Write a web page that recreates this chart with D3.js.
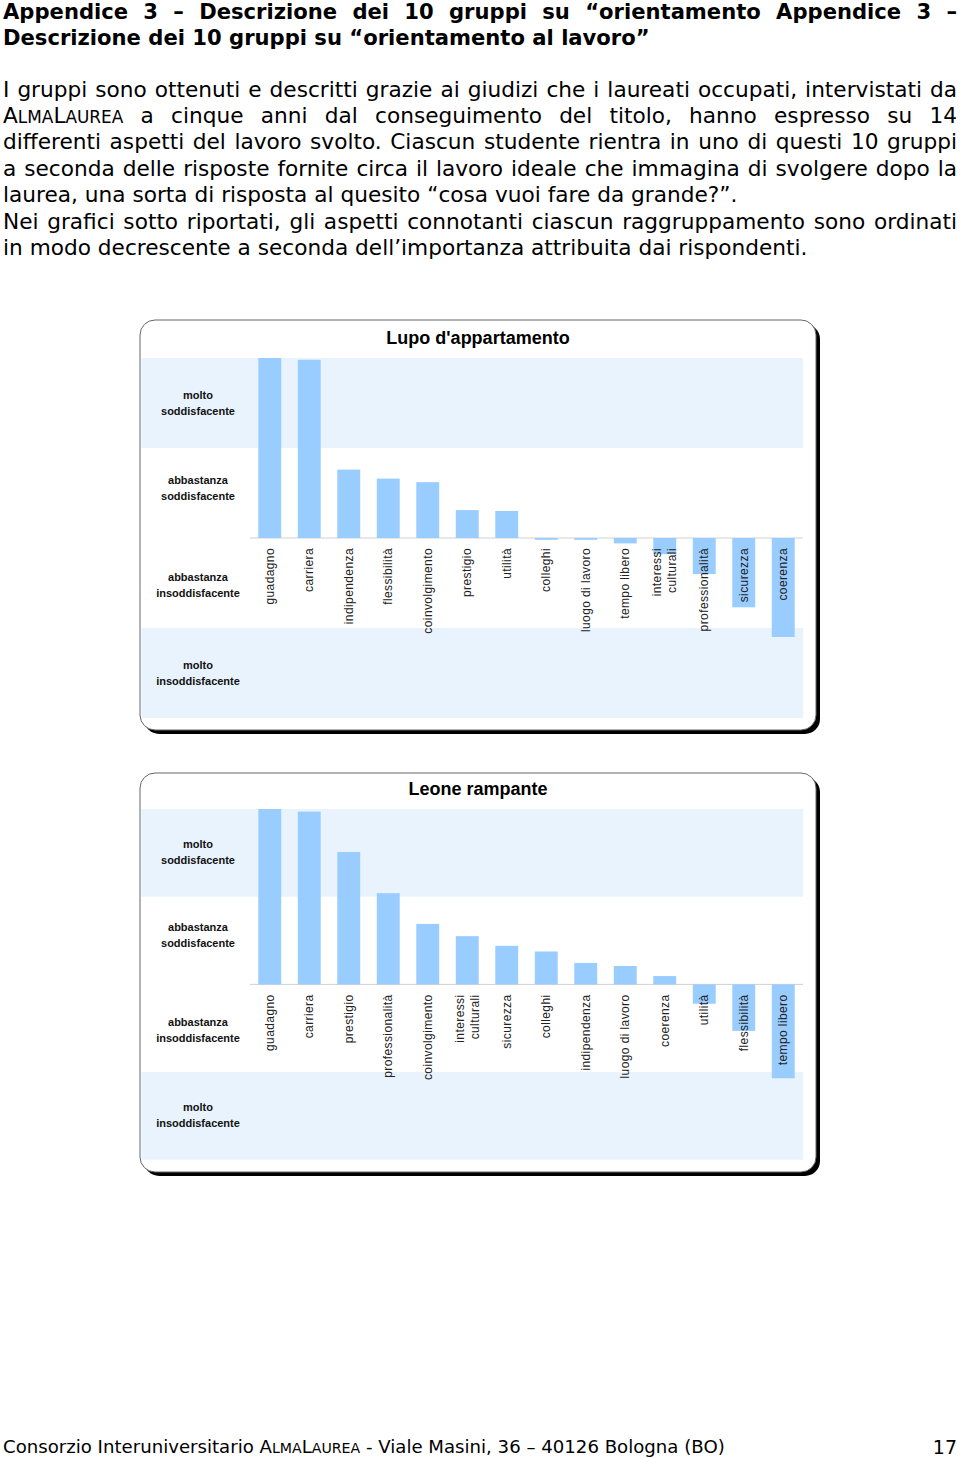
<!DOCTYPE html>
<html><head><meta charset="utf-8">
<script src="https://cdn.jsdelivr.net/npm/d3@7"></script>
<style>body{margin:0;background:#fff} svg{display:block}</style>
</head><body>
<svg id="page" width="960" height="1459"></svg>
<script>
// ---------- DATA ----------
const headerLines = [
  "Appendice 3 – Descrizione dei 10 gruppi su “orientamento Appendice 3 –",
  "Descrizione dei 10 gruppi su “orientamento al lavoro”"
];
const bodyLines = [
  "I gruppi sono ottenuti e descritti grazie ai giudizi che i laureati occupati, intervistati da",
  "ALMALAUREA a cinque anni dal conseguimento del titolo, hanno espresso su 14",
  "differenti aspetti del lavoro svolto. Ciascun studente rientra in uno di questi 10 gruppi",
  "a seconda delle risposte fornite circa il lavoro ideale che immagina di svolgere dopo la",
  "laurea, una sorta di risposta al quesito “cosa vuoi fare da grande?”.",
  "Nei grafici sotto riportati, gli aspetti connotanti ciascun raggruppamento sono ordinati",
  "in modo decrescente a seconda dell’importanza attribuita dai rispondenti."
];
const bodyJustified = [true, true, true, true, false, true, false];
const footerText = "Consorzio Interuniversitario ALMALAUREA - Viale Masini, 36 – 40126 Bologna (BO)";
const pageNumber = "17";

const chart1Title = "Lupo d'appartamento";
const chart1Categories = ["guadagno","carriera","indipendenza","flessibilità","coinvolgimento","prestigio","utilità","colleghi","luogo di lavoro","tempo libero","interessi culturali","professionalità","sicurezza","coerenza"];
const chart1Values = [2.0, 1.98, 0.76, 0.66, 0.62, 0.31, 0.30, -0.02, -0.02, -0.06, -0.18, -0.40, -0.77, -1.10];

const chart2Title = "Leone rampante";
const chart2Categories = ["guadagno","carriera","prestigio","professionalità","coinvolgimento","interessi culturali","sicurezza","colleghi","indipendenza","luogo di lavoro","coerenza","utilità","flessibilità","tempo libero"];
const chart2Values = [2.0, 1.97, 1.51, 1.04, 0.69, 0.55, 0.44, 0.375, 0.245, 0.21, 0.095, -0.22, -0.53, -1.07];

const levelLabels = [["molto","soddisfacente"],["abbastanza","soddisfacente"],["abbastanza","insoddisfacente"],["molto","insoddisfacente"]];
const levelValues = [1.5, 0.5, -0.5, -1.5];
const shadedBands = [[1, 2], [-2, -1]];
const yDomain = [-2, 2];
const wrapLabels = {"interessi culturali": ["interessi", "culturali"]};

// ---------- STYLE ----------
const BODY_FONT = "'DejaVu Sans', Verdana, sans-serif";
const CHART_FONT = "'Liberation Sans', Arial, sans-serif";
const BAR_COLOR = "#99ccff";
const BAND_COLOR = "#e9f3fd";

const svg = d3.select("#page");
svg.append("rect").attr("width", 960).attr("height", 1459).attr("fill", "#fff");

function renderRich(t, str, fs) {
  const parts = str.split("ALMALAUREA");
  parts.forEach((p, i) => {
    if (p) t.append("tspan").text(p);
    if (i < parts.length - 1) {
      t.append("tspan").text("A");
      t.append("tspan").attr("font-size", fs * 0.78).text("LMA");
      t.append("tspan").text("L");
      t.append("tspan").attr("font-size", fs * 0.78).text("AUREA");
    }
  });
}
function addText(g, str, fs, weight) {
  const t = g.append("text").attr("font-family", BODY_FONT).attr("font-size", fs)
    .attr("font-weight", weight).attr("fill", "#000");
  renderRich(t, str, fs);
  return t;
}
function drawLine(g, str, x0, x1, y, fs, weight, justify) {
  if (!justify) { addText(g, str, fs, weight).attr("x", x0).attr("y", y); return; }
  const words = str.split(" ");
  const els = words.map(w => addText(g, w, fs, weight).attr("y", y));
  const widths = els.map(e => e.node().getComputedTextLength());
  const gap = (x1 - x0 - d3.sum(widths)) / (words.length - 1);
  let x = x0;
  els.forEach((e, i) => { e.attr("x", x); x += widths[i] + gap; });
}
function fitSize(str, base, weight, target) {
  const t = addText(svg, str, base, weight).attr("x", 0).attr("y", -100);
  const w = t.node().getComputedTextLength();
  t.remove();
  return base * target / w;
}

// Header
const gHead = svg.append("g");
const headFs = fitSize(headerLines[1], 20, "bold", 647);
drawLine(gHead, headerLines[0], 3, 957, 19, headFs, "bold", true);
drawLine(gHead, headerLines[1], 3, 957, 44.5, headFs, "bold", false);

// Body
const gBody = svg.append("g");
const bodyFs = fitSize(bodyLines[6], 18, "normal", 805);
bodyLines.forEach((l, i) => drawLine(gBody, l, 3, 957, 96.5 + i * 26.4, bodyFs, "normal", bodyJustified[i]));

// Footer
const footFs = fitSize(footerText, 16, "normal", 722);
drawLine(svg, footerText, 3, 957, 1452.5, footFs, "normal", false);
svg.append("text").attr("x", 957).attr("y", 1454).attr("text-anchor", "end")
  .attr("font-family", BODY_FONT).attr("font-size", 19).text(pageNumber);

// ---------- CHARTS ----------
function drawChart(cfg) {
  const g = svg.append("g");
  const b = cfg.box;
  g.append("rect").attr("x", b.x + 4).attr("y", b.y + 4).attr("width", b.w).attr("height", b.h)
    .attr("rx", 15).attr("fill", "#000");
  g.append("rect").attr("x", b.x).attr("y", b.y).attr("width", b.w).attr("height", b.h)
    .attr("rx", 15).attr("fill", "#fff").attr("stroke", "#666").attr("stroke-width", 1);

  const y = d3.scaleLinear().domain(yDomain).range([cfg.plotTop + 4 * cfg.unit, cfg.plotTop]);
  const x = d3.scaleBand().domain(cfg.categories).range([250, 803]).paddingInner(0.42).paddingOuter(0.21);

  g.selectAll(".band").data(shadedBands).join("rect")
    .attr("x", b.x + 1.5).attr("width", 803 - b.x - 1.5)
    .attr("y", d => y(d[1])).attr("height", d => y(d[0]) - y(d[1]))
    .attr("fill", BAND_COLOR);

  g.append("text").attr("x", b.x + b.w / 2).attr("y", cfg.titleY).attr("text-anchor", "middle")
    .attr("font-family", CHART_FONT).attr("font-weight", "bold").attr("font-size", 18)
    .attr("fill", "#000").text(cfg.title);

  const nudge = [0, -5, 2, 0];
  levelLabels.forEach((lab, i) => {
    const cy = y(levelValues[i]) + nudge[i];
    const t = g.append("text").attr("text-anchor", "middle").attr("font-family", CHART_FONT)
      .attr("font-weight", "bold").attr("font-size", 11).attr("fill", "#111");
    t.append("tspan").attr("x", 198).attr("y", cy - 4.5).text(lab[0]);
    t.append("tspan").attr("x", 198).attr("y", cy + 11.5).text(lab[1]);
  });

  g.append("line").attr("x1", 250).attr("x2", 803).attr("y1", y(0)).attr("y2", y(0))
    .attr("stroke", "#d0d0d0").attr("stroke-width", 1);

  g.selectAll(".bar").data(cfg.values).join("rect")
    .attr("x", (d, i) => x(cfg.categories[i]))
    .attr("width", x.bandwidth())
    .attr("y", d => y(Math.max(0, d)))
    .attr("height", d => Math.abs(y(d) - y(0)))
    .attr("fill", BAR_COLOR);

  cfg.categories.forEach(c => {
    const lines = wrapLabels[c] || [c];
    const cx = x(c) + x.bandwidth() / 2;
    lines.forEach((ln, j) => {
      const lx = cx + (j - (lines.length - 1) / 2) * 15;
      const ly = y(0) + 10;
      g.append("text").attr("transform", `translate(${lx},${ly}) rotate(-90)`)
        .attr("text-anchor", "end").attr("dy", "0.35em")
        .attr("font-family", CHART_FONT).attr("font-size", 12).attr("letter-spacing", 0.4)
        .attr("fill", "#222").text(ln);
    });
  });
}

drawChart({box: {x: 140, y: 320, w: 676, h: 410}, plotTop: 358, unit: 90, titleY: 344,
  title: chart1Title, categories: chart1Categories, values: chart1Values});
drawChart({box: {x: 140, y: 773, w: 676, h: 399}, plotTop: 809, unit: 87.7, titleY: 795,
  title: chart2Title, categories: chart2Categories, values: chart2Values});
</script>
</body></html>
